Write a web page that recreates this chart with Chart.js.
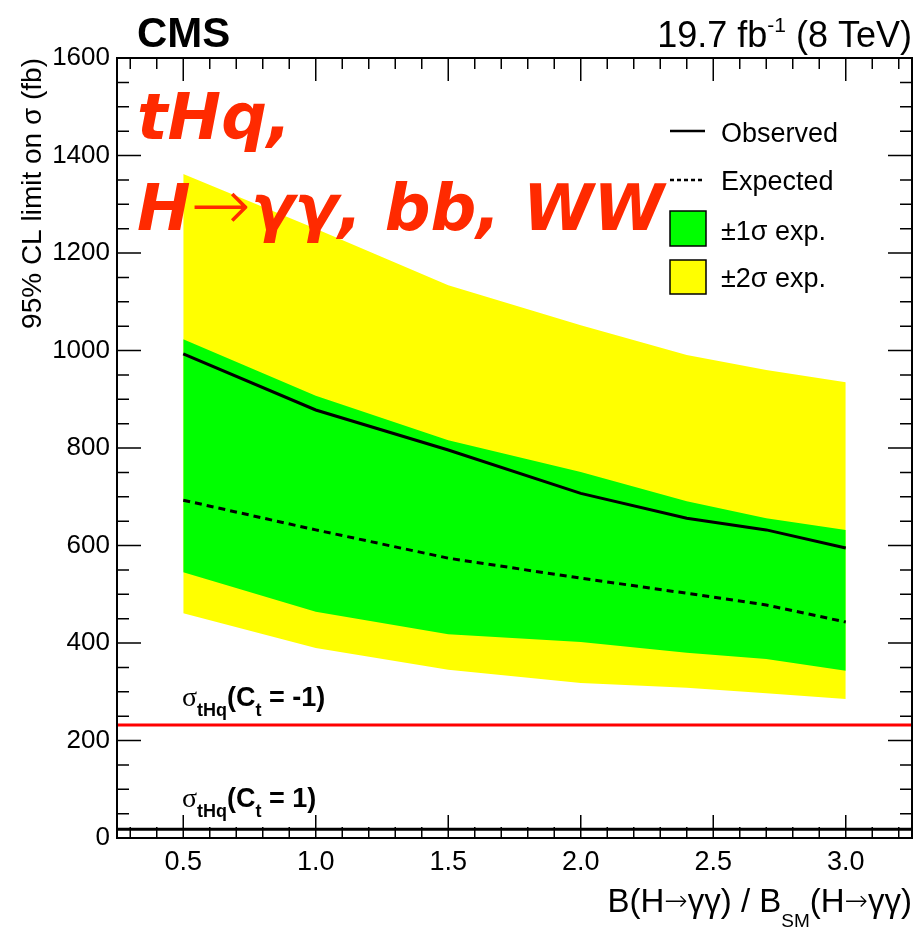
<!DOCTYPE html>
<html>
<head>
<meta charset="utf-8">
<script src="https://cdn.jsdelivr.net/npm/chart.js@4.4.0/dist/chart.umd.min.js"></script>
<style>
  html, body { margin: 0; padding: 0; background: #fff; }
  canvas { display: block; }
</style>
</head>
<body>
<canvas id="limitChart" width="919" height="930"></canvas>
<script>
// B(H->gg)/B_SM points and 95% CL limits (fb)
const ratioBR = [0.5, 1.0, 1.5, 2.0, 2.4, 2.7, 3.0];
const observed = [993, 878, 796, 707, 656, 632, 595];
const expected = [693, 632, 574, 533, 502, 478, 443];
const oneSigmaUp = [1023, 907, 816, 751, 691, 656, 632];
const oneSigmaDown = [545, 464, 418, 402, 380, 367, 343];
const twoSigmaUp = [1362, 1250, 1134, 1052, 991, 960, 935];
const twoSigmaDown = [461, 390, 345, 318, 308, 297, 285];

// theory cross sections (fb)
const sigmaCtMinus1 = 232;
const sigmaCtPlus1 = 18;

const xRange = [0.25, 3.25];
const yRange = [0, 1600];
const xTicks = [0.5, 1.0, 1.5, 2.0, 2.5, 3.0];
const yTicks = [0, 200, 400, 600, 800, 1000, 1200, 1400, 1600];

const HELV = '"Liberation Sans", Arial, Helvetica, sans-serif';
const ARROW = '"DejaVu Sans", sans-serif';

const toXY = vals => ratioBR.map((x, i) => ({ x: x, y: vals[i] }));
const flat = v => [{ x: xRange[0], y: v }, { x: xRange[1], y: v }];

// write a run of text pieces (with sub/superscripts)
function drawRuns(ctx, x, y, runs, align) {
  let total = 0;
  runs.forEach(r => { ctx.font = r[1]; total += ctx.measureText(r[0]).width; });
  let cx = align === 'right' ? x - total : x;
  ctx.textAlign = 'left';
  ctx.textBaseline = 'alphabetic';
  runs.forEach(r => {
    ctx.font = r[1];
    ctx.fillText(r[0], cx, y + (r[2] || 0));
    cx += ctx.measureText(r[0]).width;
  });
}

// frame with inward ticks on all 4 sides, ROOT style
const frameTicks = {
  id: 'frameTicks',
  afterDatasetsDraw(chart) {
    const ctx = chart.ctx;
    const a = chart.chartArea;
    const xs = chart.scales.x, ys = chart.scales.y;
    ctx.save();
    ctx.strokeStyle = '#000';
    ctx.lineWidth = 1.5;
    ctx.beginPath();
    for (let k = 1; k < 32; k++) {
      const py = ys.getPixelForValue(k * 50);
      const len = k % 4 === 0 ? 24 : 12;
      ctx.moveTo(a.left, py); ctx.lineTo(a.left + len, py);
      ctx.moveTo(a.right, py); ctx.lineTo(a.right - len, py);
    }
    for (let k = 3; k <= 32; k++) {
      const px = xs.getPixelForValue(k / 10);
      const len = k % 5 === 0 ? 23 : 11;
      ctx.moveTo(px, a.bottom); ctx.lineTo(px, a.bottom - len);
      ctx.moveTo(px, a.top); ctx.lineTo(px, a.top + len);
    }
    ctx.stroke();
    ctx.lineWidth = 2;
    ctx.strokeRect(a.left, a.top, a.right - a.left, a.bottom - a.top);
    ctx.restore();
  }
};

const texts = {
  id: 'texts',
  afterDraw(chart) {
    const ctx = chart.ctx;
    ctx.save();
    ctx.fillStyle = '#000';
    drawRuns(ctx, 137, 47, [['CMS', `bold 42px ${HELV}`]]);
    drawRuns(ctx, 912, 47, [
      ['19.7 fb', `36px ${HELV}`],
      ['-1', `21px ${HELV}`, -15],
      [' (8 TeV)', `36px ${HELV}`]
    ], 'right');

    // y title
    ctx.save();
    ctx.translate(41, 58);
    ctx.rotate(-Math.PI / 2);
    ctx.textAlign = 'right';
    ctx.font = `28px ${HELV}`;
    ctx.fillText('95% CL limit on σ (fb)', 0, 0);
    ctx.restore();

    // x title
    const xt = `33px ${HELV}`;
    const xa = `200 28px ${ARROW}`;
    drawRuns(ctx, 912, 912, [
      ['B(H', xt], ['→', xa, -2], ['γγ) / B', xt],
      ['SM', `19px ${HELV}`, 15],
      ['(H', xt], ['→', xa, -2], ['γγ)', xt]
    ], 'right');

    // theory lines labels
    const sig = '28px "Liberation Serif", serif';
    const b27 = `bold 27px ${HELV}`;
    const b18 = `bold 18px ${HELV}`;
    drawRuns(ctx, 182, 706, [['σ', sig], ['tHq', b18, 10], ['(C', b27], ['t', b18, 10], [' = -1)', b27]]);
    drawRuns(ctx, 182, 807, [['σ', sig], ['tHq', b18, 10], ['(C', b27], ['t', b18, 10], [' = 1)', b27]]);

    // legend
    ctx.strokeStyle = '#000';
    ctx.lineWidth = 2.5;
    ctx.beginPath();
    ctx.moveTo(670, 131); ctx.lineTo(705, 131);
    ctx.stroke();
    ctx.setLineDash([4, 3]);
    ctx.beginPath();
    ctx.moveTo(670, 180); ctx.lineTo(705, 180);
    ctx.stroke();
    ctx.setLineDash([]);
    ctx.lineWidth = 1.5;
    ctx.fillStyle = '#00ff00';
    ctx.fillRect(670, 211, 36, 35);
    ctx.strokeRect(670, 211, 36, 35);
    ctx.fillStyle = '#ffff00';
    ctx.fillRect(670, 260, 36, 34);
    ctx.strokeRect(670, 260, 36, 34);
    ctx.fillStyle = '#000';
    const lf = `27px ${HELV}`;
    drawRuns(ctx, 721, 142, [['Observed', lf]]);
    drawRuns(ctx, 721, 190, [['Expected', lf]]);
    drawRuns(ctx, 721, 240, [['±1σ exp.', lf]]);
    drawRuns(ctx, 721, 287, [['±2σ exp.', lf]]);

    // big red label
    ctx.fillStyle = '#ff2a00';
    const big = 'italic bold 64px "DejaVu Sans", sans-serif';
    drawRuns(ctx, 137, 139, [['tHq,', big]]);
    drawRuns(ctx, 137, 230, [
      ['H', big],
      ['→', `200 72px ${ARROW}`, 0],
      ['γγ, bb, WW', big]
    ]);
    ctx.restore();
  }
};

const ctx = document.getElementById('limitChart').getContext('2d');

const limitChart = new Chart(ctx, {
  type: 'line',
  data: {
    datasets: [
      { data: toXY(twoSigmaUp), fill: '+1', backgroundColor: '#ffff00', borderWidth: 0, pointRadius: 0, order: 6 },
      { data: toXY(twoSigmaDown), fill: false, borderWidth: 0, pointRadius: 0, order: 6 },
      { data: toXY(oneSigmaUp), fill: '+1', backgroundColor: '#00ff00', borderWidth: 0, pointRadius: 0, order: 5 },
      { data: toXY(oneSigmaDown), fill: false, borderWidth: 0, pointRadius: 0, order: 5 },
      { data: toXY(observed), borderColor: '#000', borderWidth: 3, pointRadius: 0, order: 2 },
      { data: toXY(expected), borderColor: '#000', borderWidth: 3, borderDash: [7, 5], pointRadius: 0, order: 2 },
      { data: flat(sigmaCtMinus1), borderColor: '#ff0000', borderWidth: 3, pointRadius: 0, order: 1 },
      { data: flat(sigmaCtPlus1), borderColor: '#000', borderWidth: 3, pointRadius: 0, order: 1 }
    ]
  },
  options: {
    responsive: false,
    animation: false,
    devicePixelRatio: 1,
    layout: { padding: { top: 58, right: 7, left: 0, bottom: 0 } },
    plugins: { legend: { display: false }, tooltip: { enabled: false } },
    elements: { line: { tension: 0 } },
    scales: {
      x: {
        type: 'linear',
        min: xRange[0],
        max: xRange[1],
        grid: { display: false, drawTicks: false },
        border: { display: false },
        afterBuildTicks: s => { s.ticks = xTicks.map(v => ({ value: v })); },
        afterFit: s => { s.height = 92; },
        ticks: {
          color: '#000',
          padding: 8,
          maxRotation: 0,
          font: { family: HELV, size: 27 },
          callback: v => Number(v).toFixed(1)
        }
      },
      y: {
        type: 'linear',
        min: yRange[0],
        max: yRange[1],
        grid: { display: false, drawTicks: false },
        border: { display: false },
        afterBuildTicks: s => { s.ticks = yTicks.map(v => ({ value: v })); },
        afterFit: s => { s.width = 117; },
        ticks: {
          color: '#000',
          padding: 7,
          font: { family: HELV, size: 26 },
          callback: v => String(v)
        }
      }
    }
  },
  plugins: [frameTicks, texts]
});
</script>
</body>
</html>
